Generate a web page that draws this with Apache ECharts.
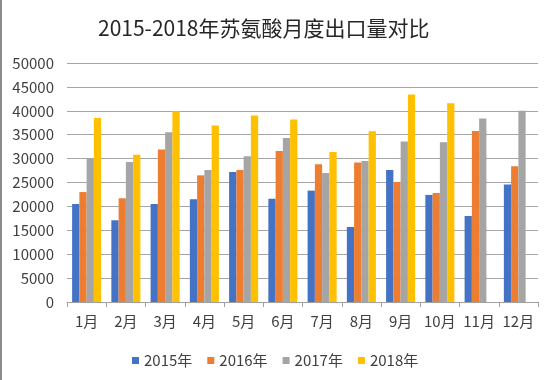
<!DOCTYPE html>
<html>
<head>
<meta charset="utf-8">
<script src="https://cdn.jsdelivr.net/npm/echarts@6/dist/echarts.min.js"></script>
<style>html,body{margin:0;padding:0;background:#fff;}#c{width:555px;height:380px;}</style>
</head>
<body>
<div id="c"></div>
<script>
var categories = ['1月','2月','3月','4月','5月','6月','7月','8月','9月','10月','11月','12月'];
var seriesNames = ['2015年','2016年','2017年','2018年'];
var y2015 = [20500, 17100, 20500, 21500, 27200, 21600, 23300, 15700, 27600, 22400, 18000, 24600];
var y2016 = [23000, 21700, 31900, 26500, 27600, 31600, 28800, 29200, 25100, 22800, 35800, 28400];
var y2017 = [30000, 29300, 35500, 27600, 30500, 34300, 27000, 29500, 33600, 33400, 38400, 40000];
var y2018 = [38500, 30800, 39900, 36900, 39000, 38200, 31400, 35700, 43400, 41600, null, null];
var colors = ['#4472C4', '#ED7D31', '#A5A5A5', '#FFC000'];
var allData = [y2015, y2016, y2017, y2018];

var font = '"Noto Sans CJK SC", "Noto Sans", sans-serif';
var chart = echarts.init(document.getElementById('c'), null, {renderer: 'canvas'});
chart.setOption({
  animation: false,
  backgroundColor: '#fff',
  color: colors,
  textStyle: {fontFamily: font},
  title: {
    text: '2015-2018年苏氨酸月度出口量对比',
    left: 93,
    top: 13,
    textStyle: {fontSize: 21, fontWeight: 'normal', color: '#262626', fontFamily: font}
  },
  legend: {
    data: seriesNames,
    left: 127,
    top: 348,
    icon: 'rect',
    itemWidth: 7,
    itemHeight: 7,
    itemGap: 15,
    textStyle: {fontSize: 15, color: '#404040', fontFamily: font}
  },
  grid: {left: 67, right: 17, top: 63, bottom: 78, containLabel: false},
  xAxis: {
    type: 'category',
    data: categories,
    axisLine: {lineStyle: {color: '#a0a0a0', width: 1}},
    axisTick: {show: true, length: 5, lineStyle: {color: '#a0a0a0'}},
    axisLabel: {fontSize: 15, color: '#404040', margin: 12, interval: 0, fontFamily: font},
    splitLine: {show: false}
  },
  yAxis: {
    type: 'value',
    min: 0,
    max: 50000,
    interval: 5000,
    axisLine: {show: false},
    axisTick: {show: false},
    axisLabel: {fontSize: 15, color: '#404040', margin: 13, fontFamily: font,
      formatter: function (v) { return String(v); }},
    splitLine: {lineStyle: {color: '#a6a6a6', width: 1}}
  },
  graphic: [{
    type: 'rect', left: 0, top: 0,
    shape: {x: 0, y: 0, width: 2, height: 380},
    style: {fill: '#8c8c8c'}
  }],
  series: seriesNames.map(function (n, i) {
    return {
      name: n,
      type: 'bar',
      data: allData[i],
      barGap: '0%',
      barCategoryGap: '26%',
      itemStyle: {color: colors[i]}
    };
  })
});
</script>
</body>
</html>
